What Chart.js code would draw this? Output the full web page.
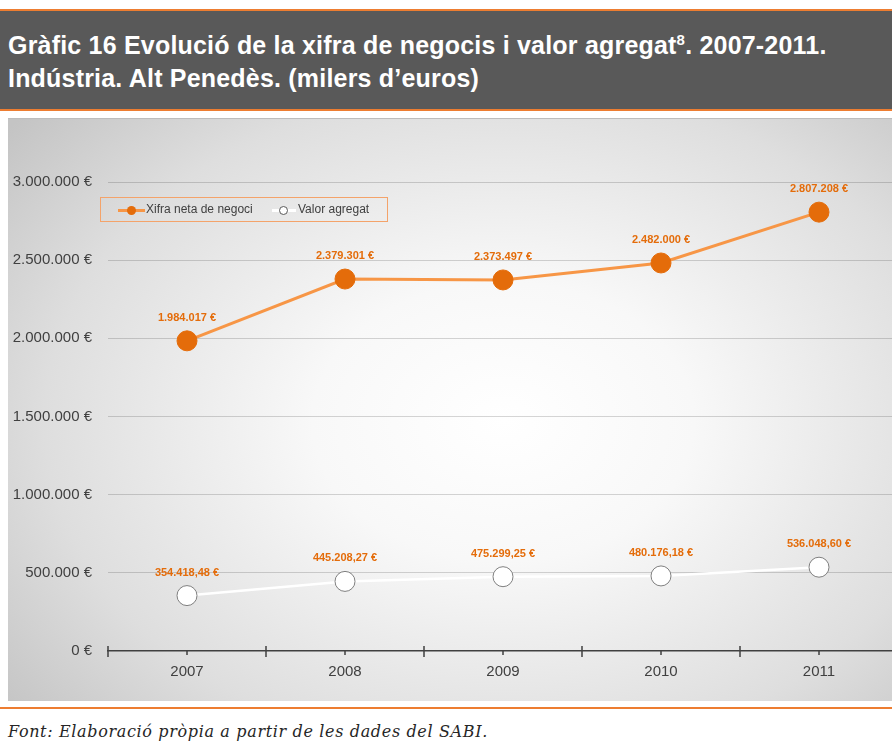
<!DOCTYPE html>
<html>
<head>
<meta charset="utf-8">
<script src="https://cdn.jsdelivr.net/npm/chart.js@4"></script>
<style>
  body { margin: 0; width: 892px; height: 746px; background: #fff; position: relative; overflow: hidden; font-family: "Liberation Sans", Arial, sans-serif; }
  .header { position: absolute; left: 0; top: 9px; width: 892px; height: 98px; background: #595959; border-top: 2px solid #ed7d31; border-bottom: 2px solid #ed7d31; }
  .header h1 { margin: 0; position: absolute; left: 8px; top: 18px; color: #fff; font-size: 25px; letter-spacing: 0.2px; line-height: 33px; font-weight: bold; }
  .header sup { font-size: 15px; line-height: 0; }
  .chartbox { position: absolute; left: 8px; top: 118px; width: 884px; height: 582px; overflow: hidden; border-top: 1px solid #bdbdbd;
    background: radial-gradient(ellipse 72% 80% at 56% 52%, #ffffff 0%, #f8f8f8 30%, #dedede 72%, #c4c4c4 100%); }
  .chartbox canvas { position: absolute; left: 0; top: 0; }
  .legend { position: absolute; left: 92px; top: 78px; width: 286px; height: 23px; border: 1px solid #f4a36a; font-size: 12px; color: #404040; }
  .legend .item { position: absolute; top: 4px; white-space: nowrap; }
  .legend .line { position: absolute; top: 11px; height: 3px; }
  .legend .dot { position: absolute; border-radius: 50%; }
  .orangeline { left: 17px; width: 27px; background: #f79646; }
  .orangedot { left: 26px; top: 8px; width: 9px; height: 9px; background: #e46c0a; }
  .whiteline { left: 171px; width: 24px; background: #fff; }
  .whitedot { left: 178px; top: 8px; width: 7px; height: 7px; background: #fff; border: 1px solid #595959; }
  .footrule { position: absolute; left: 0; top: 707px; width: 892px; height: 2px; background: #ed7d31; }
  .footer { position: absolute; left: 8px; top: 722px; font-family: "DejaVu Serif", serif; font-style: italic; font-size: 16px; letter-spacing: 0.65px; color: #262626; }
</style>
</head>
<body>
<div class="header"><h1>Gràfic 16 Evolució de la xifra de negocis i valor agregat<sup>8</sup>. 2007-2011.<br>Indústria. Alt Penedès. (milers d’euros)</h1></div>
<div class="chartbox">
  <canvas id="chart" width="901" height="582"></canvas>
  <div class="legend">
    <div class="line orangeline"></div><div class="dot orangedot"></div>
    <div class="item" style="left:45px">Xifra neta de negoci</div>
    <div class="line whiteline"></div><div class="dot whitedot"></div>
    <div class="item" style="left:197px">Valor agregat</div>
  </div>
</div>
<div class="footrule"></div>
<div class="footer">Font: Elaboració pròpia a partir de les dades del SABI.</div>
<script>
const years = ['2007', '2008', '2009', '2010', '2011'];
const xifraNeta = [1984017, 2379301, 2373497, 2482000, 2807208];
const valorAgregat = [354418.48, 445208.27, 475299.25, 480176.18, 536048.60];
const yTicks = [0, 500000, 1000000, 1500000, 2000000, 2500000, 3000000];

function euros(v, dec) {
    const parts = v.toFixed(dec).split('.');
    const ent = parts[0].replace(/\B(?=(\d{3})+(?!\d))/g, '.');
    return ent + (parts[1] ? ',' + parts[1] : '') + ' €';
}

// data labels above the points + axis tick marks
const extras = {
    id: 'extras',
    afterDatasetsDraw(chart) {
        const ctx = chart.ctx;
        ctx.save();
        ctx.font = 'bold 11px "Liberation Sans", Arial, sans-serif';
        ctx.fillStyle = '#e46c0a';
        ctx.textAlign = 'center';
        ctx.textBaseline = 'middle';
        chart.data.datasets.forEach((ds, i) => {
            chart.getDatasetMeta(i).data.forEach((pt, j) => {
                ctx.fillText(euros(ds.data[j], ds.decimals), pt.x, pt.y - 23);
            });
        });
        ctx.restore();
    },
    afterDraw(chart) {
        const x = chart.scales.x, y0 = chart.scales.y.getPixelForValue(0);
        const ctx = chart.ctx;
        const step = x.getPixelForTick(1) - x.getPixelForTick(0);
        ctx.save();
        ctx.strokeStyle = '#404040';
        ctx.lineWidth = 1.5;
        ctx.beginPath();
        for (let i = 0; i < years.length; i++) {
            const c = x.getPixelForTick(i);
            ctx.moveTo(c, y0); ctx.lineTo(c, y0 + 4);
            ctx.moveTo(c - step / 2, y0 - 5); ctx.lineTo(c - step / 2, y0 + 6);
        }
        ctx.stroke();
        ctx.restore();
    }
};

new Chart(document.getElementById('chart'), {
    type: 'line',
    data: {
        labels: years,
        datasets: [
            { label: 'Xifra neta de negoci', data: xifraNeta, decimals: 0, borderColor: '#f79646', borderWidth: 3,
              pointRadius: 10, pointBackgroundColor: '#e46c0a', pointBorderColor: '#e46c0a', pointBorderWidth: 1 },
            { label: 'Valor agregat', data: valorAgregat, decimals: 2, borderColor: '#ffffff', borderWidth: 2.5,
              pointRadius: 10, pointBackgroundColor: '#ffffff', pointBorderColor: '#7f7f7f', pointBorderWidth: 1 }
        ]
    },
    options: {
        responsive: false,
        animation: false,
        layout: { padding: { top: 63, right: 0, left: 1, bottom: 0 } },
        plugins: { legend: { display: false }, tooltip: { enabled: false } },
        scales: {
            x: {
                offset: true,
                grid: { display: false },
                border: { color: '#404040', width: 1.5 },
                ticks: { padding: 4, color: '#404040', font: { size: 15, family: '"Liberation Sans", Arial, sans-serif' } },
                afterFit(s) { s.height = 50; }
            },
            y: {
                min: 0, max: 3000000,
                afterBuildTicks(s) { s.ticks = yTicks.map(v => ({ value: v })); },
                grid: { drawTicks: false, color: ctx => ctx.tick && ctx.tick.value === 0 ? 'rgba(0,0,0,0)' : 'rgba(0,0,0,0.16)' },
                border: { display: false },
                ticks: { padding: 16, color: '#404040', font: { size: 15, family: '"Liberation Sans", Arial, sans-serif' },
                         callback: v => euros(v, 0) },
                afterFit(s) { s.width = 99; }
            }
        }
    },
    plugins: [extras]
});
</script>
</body>
</html>
